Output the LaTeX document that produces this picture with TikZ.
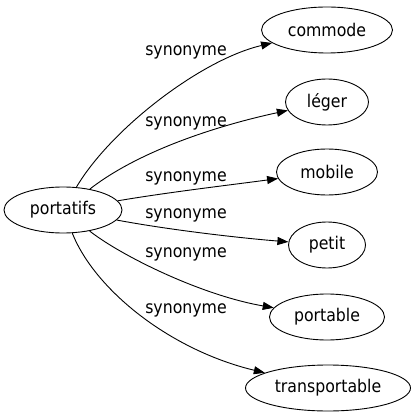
\documentclass[tikz,border=0pt]{standalone}
\usepackage{fontspec}
\setmainfont{DejaVu Sans Condensed}
\usetikzlibrary{shapes.geometric,arrows.meta}
\begin{document}
\begin{tikzpicture}[x=1pt, y=-1pt, node_style/.style={ellipse,draw=black,line width=0.9pt,inner sep=0pt,minimum height=46pt,font=\fontsize{17.5}{20}\selectfont},label_style/.style={inner sep=0pt,font=\fontsize{17.5}{20}\selectfont},edge_style/.style={draw=black, line width=0.9pt, -{Triangle[length=11pt,width=8pt]}}]
      \useasboundingbox (0,0) rectangle (415,419);
      \draw
        (63, 210) node[node_style, minimum width=118pt] (portatifs){portatifs}
        (327, 30) node[node_style, minimum width=131pt] (commode){commode}
        (327, 102) node[node_style, minimum width=83pt] (leger){léger}
        (327, 172) node[node_style, minimum width=101pt] (mobile){mobile}
        (327, 245) node[node_style, minimum width=77pt] (petit){petit}
        (327, 317) node[node_style, minimum width=115pt] (portable){portable}
        (328, 388) node[node_style, minimum width=165pt] (transportable){transportable};
      \draw[edge_style] (portatifs) .. controls (110, 130) and (200, 60) .. (commode) node[label_style] (syn_commode) at (186, 52) {synonyme};
      \draw[edge_style] (portatifs) .. controls (140, 150) and (220, 125) .. (leger) node[label_style] (syn_leger) at (186, 123) {synonyme};
      \draw[edge_style] (portatifs) .. controls (170, 192) and (230, 185) .. (mobile) node[label_style] (syn_mobile) at (186, 178) {synonyme};
      \draw[edge_style] (portatifs) .. controls (170, 230) and (240, 238) .. (petit) node[label_style] (syn_petit) at (186, 215) {synonyme};
      \draw[edge_style] (portatifs) .. controls (120, 255) and (200, 295) .. (portable) node[label_style] (syn_portable) at (186, 254) {synonyme};
      \draw[edge_style] (portatifs) .. controls (95, 290) and (170, 350) .. (transportable) node[label_style] (syn_transportable) at (186, 310) {synonyme};
    \end{tikzpicture}
\end{document}
